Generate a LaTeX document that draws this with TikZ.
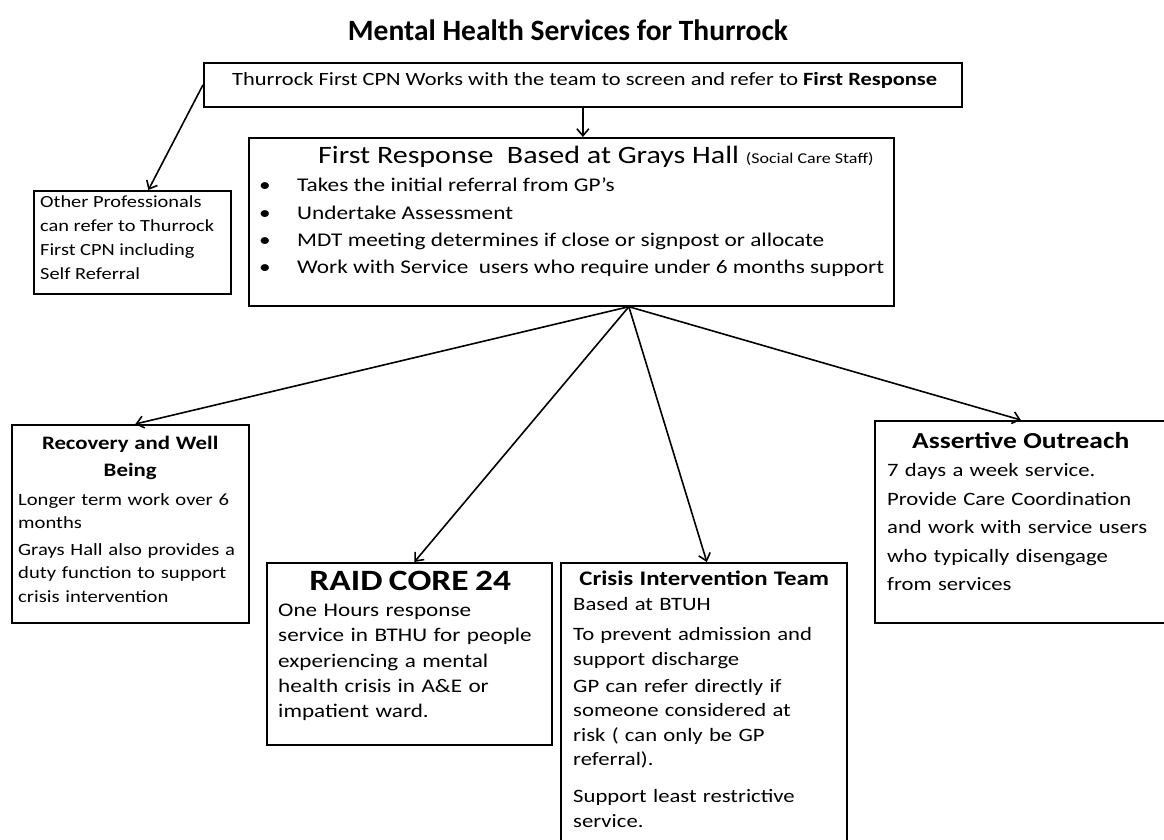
\documentclass[tikz,border=0pt]{standalone}
\usepackage{fontspec}
\usetikzlibrary{arrows.meta}
\setmainfont{Carlito}[FakeStretch=1.2]
\newfontfamily\titlefont{Carlito}

\begin{document}
\begin{tikzpicture}[x=1pt, y=-1pt,
    box/.style={rectangle, draw, line width=1.7pt, anchor=north west, inner sep=0pt},
    txt/.style={anchor=north west, align=left, inner sep=0pt},
    arr/.style={-{Straight Barb[length=7pt, width=12pt]}, line width=1.6pt}]
    \clip (0,0) rectangle (1164,840);
    \fill[white] (0,0) rectangle (1164,840);
    \node[font=\titlefont\bfseries\fontsize{29.5}{34}\selectfont] (title) at (568,30) {Mental Health Services for Thurrock};
    % boxes
    \node[box, minimum width=758pt, minimum height=44pt] (cpn) at (203,62) {};
    \node[box, minimum width=197pt, minimum height=103pt] (oth) at (33,190) {};
    \node[box, minimum width=645pt, minimum height=168pt] (fr) at (248,137) {};
    \node[box, minimum width=237pt, minimum height=198pt] (rec) at (11,424) {};
    \node[box, minimum width=285pt, minimum height=182pt] (raid) at (266,562) {};
    \node[box, minimum width=286pt, minimum height=300pt] (cit) at (560,562) {};
    \node[box, minimum width=300pt, minimum height=202pt] (ao) at (874,420) {};
    % texts
    \node[anchor=base west, inner sep=0pt, font=\fontsize{18.7}{22}\selectfont] (cpntxt) at (232,86)
        {Thurrock First CPN Works with the team to screen and refer to \textbf{First Response}};
    \node[txt, font=\fontsize{17}{24.3}\selectfont] (othtxt) at (40,195)
        {Other Professionals\\ can refer to Thurrock\\ First CPN including\\ Self Referral};
    \node[anchor=base west, inner sep=0pt] (frhead) at (318,164)
        {\fontsize{25}{28}\selectfont First Response\ \ Based at Grays Hall {\fontsize{15}{18}\selectfont (Social Care Staff)}};
    \node[txt, font=\fontsize{19.4}{27.3}\selectfont] (frtxt) at (259,178)
        {\makebox[38pt][l]{\textbullet}Takes\ the initial referral\ from GP’s\\
         \makebox[38pt][l]{\textbullet}Undertake\ Assessment\\
         \makebox[38pt][l]{\textbullet}MDT meeting\ determines\ if close or signpost or allocate\\
         \makebox[38pt][l]{\textbullet}Work with Service\ \ users who require\ under 6 months support};
    \node[txt, text width=224pt, font=\fontsize{17.2}{23.5}\selectfont] (rectxt) at (18,436)
        {{\centering\bfseries\fontsize{19}{27}\selectfont Recovery and\ Well\\ Being\par}\vspace{5pt}
         Longer term work over 6\\ months\\[3pt]
         Grays Hall also provides a\\ duty function to support\\ crisis intervention};
    \node[txt, text width=264pt, font=\fontsize{19.3}{25.2}\selectfont] (raidtxt) at (278,571)
        {{\centering\bfseries\fontsize{29.5}{31}\selectfont RAID CORE 24\par}\vspace{1pt}
         One\ Hours response\\ service\ in BTHU for people\\ experiencing\ a mental\\
         health\ crisis in\ A\&E or\\ impatient\ ward.};
    \node[txt, text width=262pt, font=\fontsize{18.9}{24.6}\selectfont] (cittxt) at (573,571)
        {{\centering\bfseries\fontsize{20.7}{26}\selectfont Crisis\ Intervention\ Team\par}
         Based at BTUH\\[6pt]
         To prevent admission and\\ support discharge\\[2pt]
         GP can refer directly\ if\\ someone considered at\\ risk ( can only be GP\\ referral).\\[12pt]
         Support least\ restrictive\\ service.};
    \node[txt, text width=275pt, font=\fontsize{18.9}{28.5}\selectfont] (aotxt) at (887,432)
        {\hspace*{25pt}{\bfseries\fontsize{22.9}{30}\selectfont Assertive Outreach}\\
         7 days a week\ service.\\ Provide Care Coordination\\ and work with\ service users\\
         who typically disengage\\ from services};
    % connectors
    \draw[arr] (cpn.west) -- ([xshift=16pt]oth.north);
    \draw[arr] (cpn.south) -- (cpn.south |- fr.north);
    \draw[arr] ([xshift=57.5pt]fr.south) -- ([xshift=5pt]rec.north);
    \draw[arr] ([xshift=57.5pt]fr.south) -- ([xshift=5pt]raid.north);
    \draw[arr] ([xshift=57.5pt]fr.south) -- ([xshift=3pt]cit.north);
    \draw[arr] ([xshift=57.5pt]fr.south) -- ([xshift=-4pt]ao.north);
\end{tikzpicture}
\end{document}
